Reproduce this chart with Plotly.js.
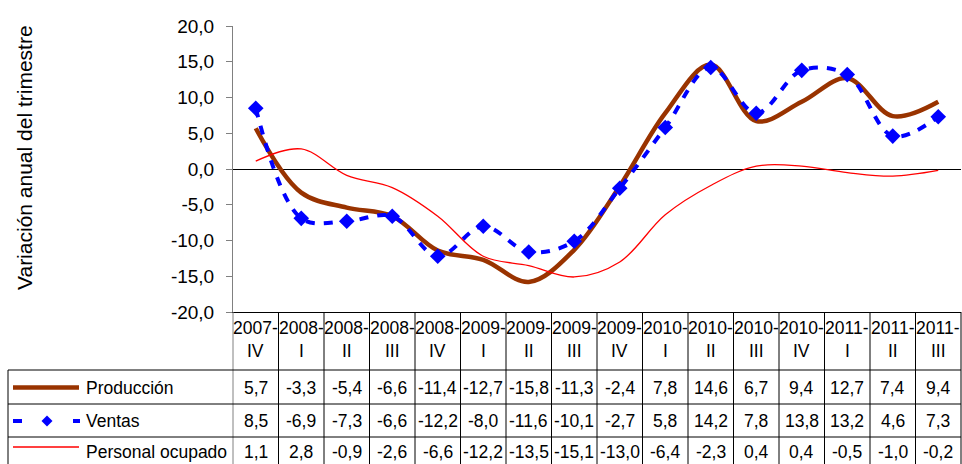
<!DOCTYPE html>
<html>
<head>
<meta charset="utf-8">
<script src="https://cdn.plot.ly/plotly-3.0.1.min.js"></script>
<style>
html,body{margin:0;padding:0;overflow:hidden;background:#fff;}
#chart{width:962px;height:464px;}
</style>
</head>
<body>
<div id="chart"></div>
<script>
// ---- data ----
var years = ["2007","2008","2008","2008","2008","2009","2009","2009","2009","2010","2010","2010","2010","2011","2011","2011"];
var quarters = ["IV","I","II","III","IV","I","II","III","IV","I","II","III","IV","I","II","III"];
var produccion = [5.7,-3.3,-5.4,-6.6,-11.4,-12.7,-15.8,-11.3,-2.4,7.8,14.6,6.7,9.4,12.7,7.4,9.4];
var ventas = [8.5,-6.9,-7.3,-6.6,-12.2,-8.0,-11.6,-10.1,-2.7,5.8,14.2,7.8,13.8,13.2,4.6,7.3];
var personal = [1.1,2.8,-0.9,-2.6,-6.6,-12.2,-13.5,-15.1,-13.0,-6.4,-2.3,0.4,0.4,-0.5,-1.0,-0.2];
var seriesNames = ["Producción","Ventas","Personal ocupado"];
var yTickVals = [-20,-15,-10,-5,0,5,10,15,20];
var yTitle = "Variación anual del trimestre";

// ---- helpers ----
var W = 962, H = 464, ML = 233, MR = 1, MT = 26, MB = 152;
var PW = W - ML - MR, PH = H - MT - MB;
function px(p){ return (p - ML) / PW; }       // pixel x -> paper x
function py(p){ return (H - MB - p) / PH; }   // pixel y -> paper y
function fmt(v){ return v.toFixed(1).replace('.', ','); }
var FONT = "Liberation Sans, Arial, sans-serif";
var n = years.length;
var idx = years.map(function(_, i){ return i; });

var traces = [
  {x: idx, y: produccion, name: seriesNames[0], mode: 'lines', type: 'scatter',
   line: {color: '#993300', width: 4.5, shape: 'spline', smoothing: 1}},
  {x: idx, y: ventas, name: seriesNames[1], mode: 'lines+markers', type: 'scatter',
   line: {color: '#0000FF', width: 4, dash: '9px,9px', shape: 'spline', smoothing: 1},
   marker: {symbol: 'diamond', size: 12, color: '#0000FF'}},
  {x: idx, y: personal, name: seriesNames[2], mode: 'lines', type: 'scatter',
   line: {color: '#FF0000', width: 1.3, shape: 'spline', smoothing: 1}}
];

var annotations = [];
var shapes = [];
var rowCenters = [388, 421, 452];
var rowData = [produccion, ventas, personal];
var TS = 17.5;

for (var i = 0; i < n; i++) {
  annotations.push({x: i, xref: 'x', y: py(327.5), yref: 'paper', text: years[i] + '-',
    showarrow: false, xanchor: 'center', yanchor: 'middle', font: {family: FONT, size: TS, color: '#000'}});
  annotations.push({x: i, xref: 'x', y: py(350.5), yref: 'paper', text: quarters[i],
    showarrow: false, xanchor: 'center', yanchor: 'middle', font: {family: FONT, size: TS, color: '#000'}});
  for (var r = 0; r < rowData.length; r++) {
    annotations.push({x: i, xref: 'x', y: py(rowCenters[r]), yref: 'paper', text: fmt(rowData[r][i]),
      showarrow: false, xanchor: 'center', yanchor: 'middle', font: {family: FONT, size: TS, color: '#000'}});
  }
}
for (var r = 0; r < seriesNames.length; r++) {
  annotations.push({x: px(84), xref: 'paper', y: py(rowCenters[r]), yref: 'paper', text: seriesNames[r],
    showarrow: false, xanchor: 'left', yanchor: 'middle', font: {family: FONT, size: TS, color: '#000'}});
}
// y axis title
annotations.push({x: px(24), xref: 'paper', y: py(158), yref: 'paper', text: yTitle, textangle: -90,
  showarrow: false, xanchor: 'center', yanchor: 'middle', font: {family: FONT, size: 21, color: '#000'}});

// table grid: vertical lines
for (var k = 0; k <= n; k++) {
  shapes.push({type: 'line', xref: 'paper', yref: 'paper', x0: k / n, x1: k / n, y0: 0, y1: py(470),
    line: {color: k === 0 ? '#808080' : '#000', width: 1}});
}
// horizontal lines
[370, 404, 437].forEach(function(p){
  shapes.push({type: 'line', xref: 'paper', yref: 'paper', x0: px(8), x1: 1, y0: py(p), y1: py(p),
    line: {color: '#000', width: 1}});
});
// left outer border
shapes.push({type: 'line', xref: 'paper', yref: 'paper', x0: px(8), x1: px(8), y0: py(370), y1: py(470),
  line: {color: '#000', width: 1}});

// legend keys
shapes.push({type: 'line', xref: 'paper', yref: 'paper', x0: px(13), x1: px(79), y0: py(387.5), y1: py(387.5),
  line: {color: '#993300', width: 4.5}});
shapes.push({type: 'rect', xref: 'paper', yref: 'paper', x0: px(13), x1: px(22), y0: py(419), y1: py(423),
  fillcolor: '#0000FF', line: {width: 0}});
shapes.push({type: 'rect', xref: 'paper', yref: 'paper', x0: px(73), x1: px(80), y0: py(419), y1: py(423),
  fillcolor: '#0000FF', line: {width: 0}});
shapes.push({type: 'path', xref: 'paper', yref: 'paper',
  path: 'M' + px(47) + ',' + py(415.5) + ' L' + px(52.5) + ',' + py(421) + ' L' + px(47) + ',' + py(426.5) + ' L' + px(41.5) + ',' + py(421) + ' Z',
  fillcolor: '#0000FF', line: {width: 0}});
shapes.push({type: 'line', xref: 'paper', yref: 'paper', x0: px(13), x1: px(79), y0: py(447), y1: py(447),
  line: {color: '#FF0000', width: 1.3}});

var layout = {
  width: W, height: H,
  margin: {l: ML, r: MR, t: MT, b: MB, pad: 0},
  paper_bgcolor: '#fff', plot_bgcolor: '#fff',
  showlegend: false,
  font: {family: FONT, color: '#000'},
  xaxis: {range: [-0.5, n - 0.5], showticklabels: false, showgrid: false, zeroline: false,
    showline: true, linecolor: '#000', linewidth: 1, ticks: '', fixedrange: true},
  yaxis: {range: [-20, 20], tickvals: yTickVals, ticktext: yTickVals.map(fmt),
    showgrid: false, zeroline: true, zerolinecolor: '#000', zerolinewidth: 1,
    showline: true, linecolor: '#808080', linewidth: 1, ticks: 'outside', ticklen: 6, tickcolor: '#808080',
    ticklabelstandoff: 8,
    tickfont: {family: FONT, size: 19, color: '#000'}, fixedrange: true},
  annotations: annotations,
  shapes: shapes
};

Plotly.newPlot('chart', traces, layout, {staticPlot: true, displayModeBar: false});
</script>
</body>
</html>
